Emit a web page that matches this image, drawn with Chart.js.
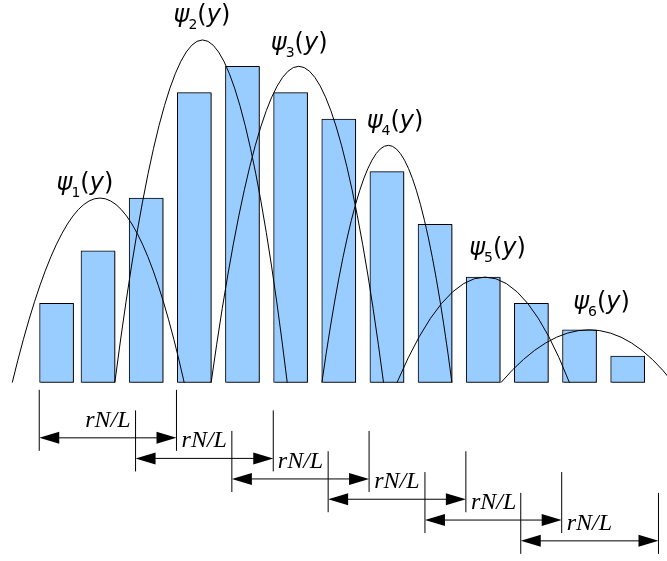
<!DOCTYPE html>
<html>
<head>
<meta charset="utf-8">
<script src="https://cdn.jsdelivr.net/npm/chart.js@4/dist/chart.umd.min.js"></script>
<style>
  html, body { margin: 0; padding: 0; background: #fff; }
  #box { position: relative; width: 667px; height: 561px; }
</style>
</head>
<body>
<div id="box"><canvas id="chart"></canvas></div>
<script>
'use strict';

// bars: position along y (in bar pitches) and height
const barX = [1.14, 2, 3, 4, 5, 6, 7, 8, 9, 10, 11, 12, 13];
const barY = [3, 5, 7, 11, 12, 11, 10, 8, 6, 4, 3, 2, 1];

// psi_k arcs: where they leave the axis, their top, where they come back
const psiStart = [0.22, 2.35, 4.35, 6.65, 8.21, 10.37];
const psiPeakX = [2.04, 4.17, 6.17, 8.03, 10.04, 12.2];
const psiEnd = [3.79, 5.93, 7.93, 9.35, 11.79, 13.94];
const psiPeakY = [7, 13, 12, 9, 4, 2];
const psiLabelX = [1.14, 3.57, 5.59, 7.58, 9.71, 11.87];
const psiLabelY = [7.31, 13.7, 12.6, 9.66, 4.82, 2.79];

// rN/L dimension arrows under the axis
const spanFrom = [0.78, 2.78, 4.78, 6.78, 8.79, 10.78];
const spanTo = [3.63, 5.64, 7.63, 9.64, 11.63, 13.64];
const spanY = [-2.1, -2.88, -3.66, -4.43, -5.22, -6.01];
const spanText = 'rN/L';

// writes psi_n(y): italic psi and y, upright index and brackets
function drawPsi(ctx, n, x, y) {
  const parts = [
    ['\u03c8', 'italic 24px "DejaVu Sans"', 0, -1],
    [String(n), '14px "DejaVu Sans"', 7, 0],
    ['(', '24px "DejaVu Sans"', 0, 0],
    ['y', 'italic 24px "DejaVu Sans"', 0, 0],
    [')', '24px "DejaVu Sans"', 0, 0]
  ];
  let cx = x;
  parts.forEach(p => {
    ctx.font = p[1];
    ctx.fillText(p[0], cx, y + p[2]);
    cx += ctx.measureText(p[0]).width + p[3];
  });
}

function arrowHead(ctx, x, y, dir) {
  ctx.beginPath();
  ctx.moveTo(x, y);
  ctx.lineTo(x + dir * 20, y - 6);
  ctx.lineTo(x + dir * 20, y + 6);
  ctx.closePath();
  ctx.fill();
}

const overlay = {
  id: 'overlay',
  beforeDatasetsDraw(chart) {
    const ctx = chart.ctx;
    ctx.save();
    ctx.shadowColor = 'rgba(0,0,0,0.45)';
    ctx.shadowOffsetX = 1.5;
    ctx.shadowOffsetY = 0.5;
    ctx.shadowBlur = 0;
  },
  afterDatasetsDraw(chart) {
    const ctx = chart.ctx;
    ctx.restore();
    const xs = chart.scales.x;
    const ys = chart.scales.y;
    const base = ys.getPixelForValue(0);
    ctx.save();
    ctx.strokeStyle = '#000';
    ctx.fillStyle = '#000';
    ctx.lineWidth = 1;
    ctx.textBaseline = 'alphabetic';

    psiStart.forEach((s, i) => {
      const x0 = xs.getPixelForValue(s);
      const x1 = xs.getPixelForValue(psiEnd[i]);
      const xp = xs.getPixelForValue(psiPeakX[i]);
      const yp = ys.getPixelForValue(psiPeakY[i]);
      ctx.beginPath();
      ctx.moveTo(x0, base);
      ctx.quadraticCurveTo(2 * xp - (x0 + x1) / 2, 2 * yp - base, x1, base);
      ctx.stroke();
      drawPsi(ctx, i + 1, xs.getPixelForValue(psiLabelX[i]), ys.getPixelForValue(psiLabelY[i]));
    });

    spanFrom.forEach((f, i) => {
      const x0 = xs.getPixelForValue(f);
      const x1 = xs.getPixelForValue(spanTo[i]);
      const y = ys.getPixelForValue(spanY[i]);
      ctx.beginPath();
      ctx.moveTo(x0, y - 48);
      ctx.lineTo(x0, y + 13);
      ctx.moveTo(x1, y - 48);
      ctx.lineTo(x1, y + 13);
      ctx.moveTo(x0 + 10, y);
      ctx.lineTo(x1 - 10, y);
      ctx.stroke();
      arrowHead(ctx, x0, y, 1);
      arrowHead(ctx, x1, y, -1);
      ctx.font = 'italic 24px "Liberation Serif"';
      ctx.fillText(spanText, x0 + 46, y - 11);
    });
    ctx.restore();
  }
};

new Chart(document.getElementById('chart'), {
  type: 'bar',
  data: {
    datasets: [{
      data: barX.map((x, i) => ({ x: x, y: barY[i] })),
      backgroundColor: '#99ccff',
      borderColor: '#000',
      borderWidth: 1,
      borderSkipped: false,
      barThickness: 34
    }]
  },
  options: {
    responsive: true,
    maintainAspectRatio: false,
    animation: false,
    layout: { padding: 0 },
    plugins: {
      legend: { display: false },
      tooltip: { enabled: false }
    },
    scales: {
      x: { type: 'linear', display: false, offset: false, min: -0.035, max: 13.817 },
      y: { display: false, min: -6.774, max: 14.516 }
    }
  },
  plugins: [overlay]
});
</script>
</body>
</html>
